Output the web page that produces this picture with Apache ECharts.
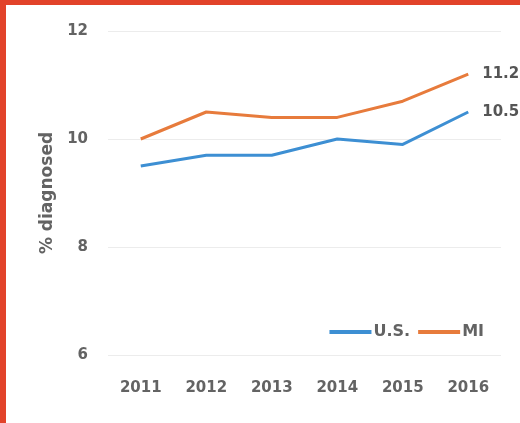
<!DOCTYPE html>
<html>
<head>
<meta charset="utf-8">
<script src="https://cdn.jsdelivr.net/npm/echarts@6/dist/echarts.min.js"></script>
<style>
  html, body { margin: 0; padding: 0; background: #fff; }
  #chart { width: 520px; height: 423px; }
</style>
</head>
<body>
<div id="chart"></div>
<script>
// Percentage of adults diagnosed, by year
const years = ['2011', '2012', '2013', '2014', '2015', '2016'];
const usValues = [9.5, 9.7, 9.7, 10.0, 9.9, 10.5];
const miValues = [10.0, 10.5, 10.4, 10.4, 10.7, 11.2];
const seriesNames = ['U.S.', 'MI'];
const yTicks = [6, 8, 10, 12];

const FONT = 'DejaVu Sans';
const TEXT = '#636363';
const BLUE = '#3d8fd3';
const ORANGE = '#e77b3c';
const FRAME = '#e2432a';

const chart = echarts.init(document.getElementById('chart'), null, { renderer: 'canvas' });

function lineSeries(name, data, color) {
  return {
    name: name,
    type: 'line',
    data: data,
    symbol: 'none',
    smooth: false,
    lineStyle: { color: color, width: 3 },
    itemStyle: { color: color },
    endLabel: {
      show: true,
      formatter: p => p.value.toFixed(1),
      color: '#555555',
      fontFamily: FONT,
      fontWeight: 'bold',
      fontSize: 15,
      distance: 14
    },
    emphasis: { disabled: true }
  };
}

chart.setOption({
  animation: false,
  backgroundColor: '#ffffff',
  textStyle: { fontFamily: FONT },
  graphic: [
    { type: 'rect', left: 0, top: 0, shape: { width: 520, height: 5 }, style: { fill: FRAME }, z: 100 },
    { type: 'rect', left: 0, top: 0, shape: { width: 6, height: 423 }, style: { fill: FRAME }, z: 100 }
  ],
  grid: { left: 108, right: 19, top: 31, bottom: 68, containLabel: false },
  legend: {
    data: seriesNames,
    right: 31,
    top: 319,
    itemWidth: 42,
    itemHeight: 4,
    itemGap: 8,
    icon: 'rect',
    textStyle: { color: TEXT, fontFamily: FONT, fontWeight: 'bold', fontSize: 16, padding: [0, 0, 0, -3] }
  },
  xAxis: {
    type: 'category',
    data: years,
    boundaryGap: true,
    axisLine: { show: false },
    axisTick: { show: false },
    axisLabel: { color: TEXT, fontFamily: FONT, fontWeight: 'bold', fontSize: 15, margin: 26 }
  },
  yAxis: {
    type: 'value',
    min: yTicks[0],
    max: yTicks[yTicks.length - 1],
    interval: 2,
    name: '% diagnosed',
    nameLocation: 'middle',
    nameGap: 51,
    nameTextStyle: { color: TEXT, fontFamily: FONT, fontWeight: 'bold', fontSize: 17 },
    axisLine: { show: false },
    axisTick: { show: false },
    axisLabel: { color: TEXT, fontFamily: FONT, fontWeight: 'bold', fontSize: 15, margin: 20 },
    splitLine: { lineStyle: { color: '#ececec', width: 1 } }
  },
  series: [
    lineSeries(seriesNames[0], usValues, BLUE),
    lineSeries(seriesNames[1], miValues, ORANGE)
  ]
});
</script>
</body>
</html>
